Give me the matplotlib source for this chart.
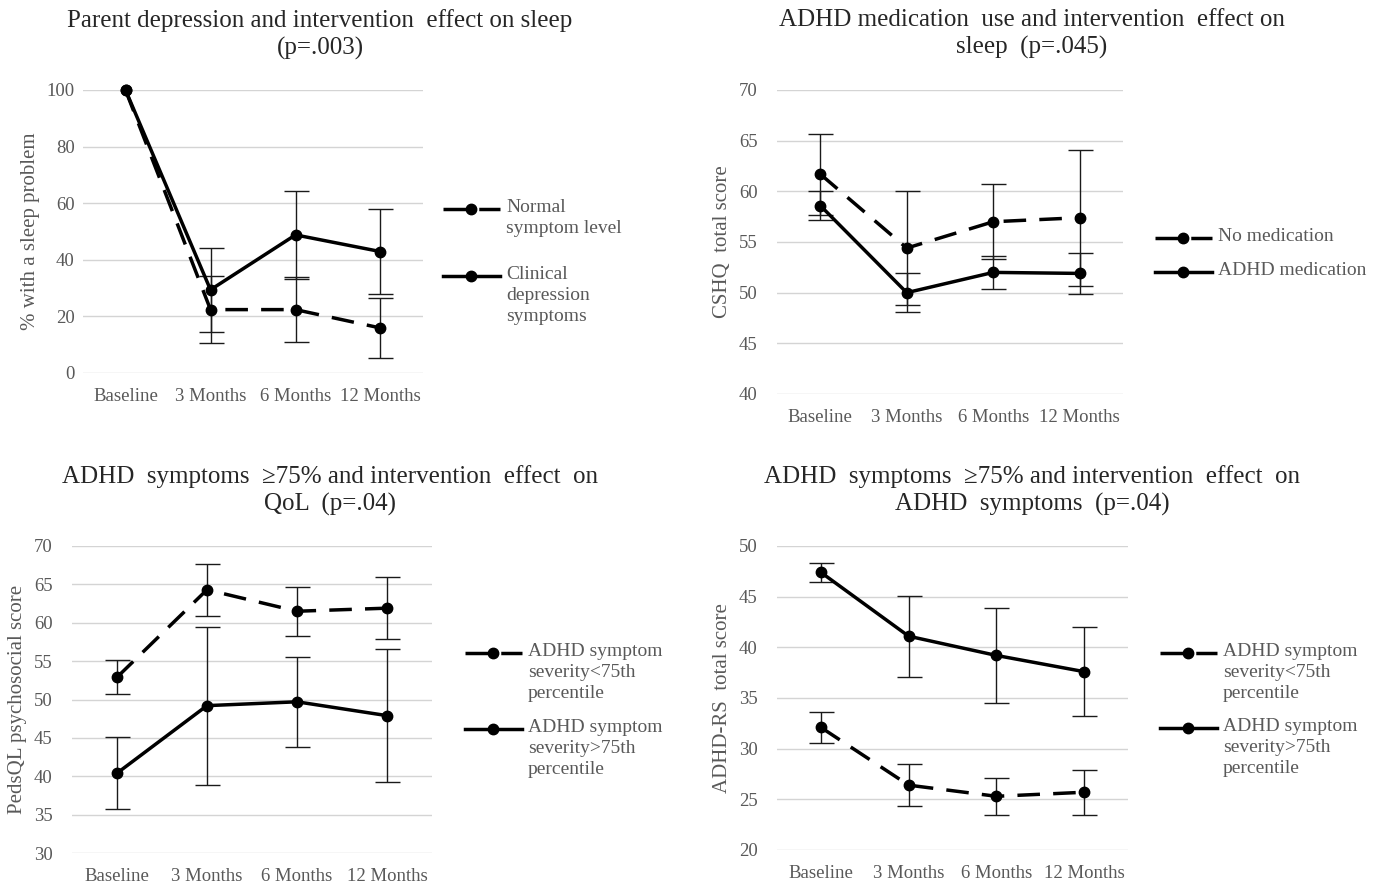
import numpy as np
import matplotlib
matplotlib.use("Agg")
import matplotlib.pyplot as plt
from matplotlib.lines import Line2D

plt.rcParams['font.family'] = ['Liberation Serif', 'DejaVu Serif']

# --- data ---
timepoints = ['Baseline', '3 Months', '6 Months', '12 Months']

# panel 1: parent depression, % with a sleep problem
normal_level = [100, 22.4, 22.4, 15.9]
normal_level_err = [None, 11.8, 11.5, 10.6]
clinical_dep = [100, 29.4, 48.8, 42.9]
clinical_dep_err = [None, 14.8, 15.6, 15.1]

# panel 2: ADHD medication, CSHQ total score
no_medication = [61.7, 54.4, 57.0, 57.4]
no_medication_err = [4.0, 5.6, 3.7, 6.7]
adhd_medication = [58.6, 50.0, 52.0, 51.9]
adhd_medication_err = [1.4, 1.9, 1.6, 2.0]

# panel 3: PedsQL psychosocial score
qol_below75 = [52.9, 64.3, 61.5, 61.9]
qol_below75_err = [2.2, 3.4, 3.2, 4.0]
qol_above75 = [40.4, 49.2, 49.7, 47.9]
qol_above75_err = [4.7, 10.3, 5.9, 8.7]

# panel 4: ADHD-RS total score
rs_below75 = [32.1, 26.4, 25.3, 25.7]
rs_below75_err = [1.5, 2.1, 1.85, 2.2]
rs_above75 = [47.4, 41.1, 39.2, 37.6]
rs_above75_err = [0.95, 4.0, 4.7, 4.4]

DASH = (0, (6.5, 3.8))
TXT = '#595959'
W, H = 1384, 890

fig = plt.figure(figsize=(W / 100, H / 100), dpi=100)


def fx(px):
    return px / W


def fy(py):
    return 1 - py / H


def add_panel(box, ylim, step, ylabel, series, ypad=14):
    x0, y0, x1, y1 = box
    ax = fig.add_axes([fx(x0), fy(y1), fx(x1 - x0), (y1 - y0) / H])
    x = np.arange(len(timepoints))
    for vals, errs, ls in series:
        idx = [i for i, e in enumerate(errs) if e is not None]
        ax.errorbar(x[idx], np.array(vals)[idx], yerr=np.array([errs[i] for i in idx]),
                    fmt='none', ecolor='#1a1a1a', elinewidth=1.0, capsize=9,
                    capthick=1.0, zorder=2)
    for vals, errs, ls in series:
        ax.plot(x, vals, linestyle=ls, color='black', lw=2.5, marker='o',
                markersize=7.5, zorder=3, clip_on=False)
    ax.set_xlim(-0.5, len(timepoints) - 0.5)
    ax.set_ylim(*ylim)
    ax.set_yticks(np.arange(ylim[0], ylim[1] + 0.1, step))
    ax.set_xticks(x)
    ax.set_xticklabels(timepoints)
    ax.grid(axis='y', color='#d4d4d4', lw=1.0)
    ax.set_axisbelow(True)
    for s in ax.spines.values():
        s.set_visible(False)
    ax.tick_params(axis='both', length=0, labelsize=13.5, colors=TXT)
    ax.tick_params(axis='y', pad=ypad)
    ax.tick_params(axis='x', pad=11)
    ax.set_ylabel(ylabel, fontsize=15, color=TXT, labelpad=5)
    return ax


def add_legend(x, rows):
    # rows: (first line y in px, linestyle, text)
    for y, ls, label in rows:
        line = Line2D([fx(x), fx(x + 28), fx(x + 57)], [fy(y)] * 3,
                      transform=fig.transFigure, color='black', lw=2.5,
                      linestyle=ls, marker='o', markersize=7.5, markevery=[1])
        fig.add_artist(line)
        fig.text(fx(x + 63), fy(y - 10), label, fontsize=14, color=TXT,
                 ha='left', va='top', linespacing=1.32,
                 transform=fig.transFigure)


def add_title(xc, y, text):
    fig.text(fx(xc), fy(y), text, fontsize=18, color='#262626', ha='center',
             va='top', linespacing=1.3)


# panel 1
ax1 = add_panel((83, 90, 423, 373), (0, 100), 20, '% with a sleep problem',
                [(normal_level, normal_level_err, DASH),
                 (clinical_dep, clinical_dep_err, '-')], ypad=6)
add_title(320, 9, 'Parent depression and intervention  effect on sleep\n(p=.003)')
add_legend(443, [(209, DASH, 'Normal\nsymptom level'),
                 (276, '-', 'Clinical\ndepression\nsymptoms')])

# panel 2
ax2 = add_panel((777, 90, 1123, 394), (40, 70), 5, 'CSHQ  total score',
                [(no_medication, no_medication_err, DASH),
                 (adhd_medication, adhd_medication_err, '-')])
add_title(1032, 9, 'ADHD medication  use and intervention  effect on\nsleep  (p=.045)')
add_legend(1155, [(238, DASH, 'No medication'),
                  (272, '-', 'ADHD medication')])

# panel 3
ax3 = add_panel((72, 546, 432, 853), (30, 70), 5, 'PedsQL psychosocial score',
                [(qol_below75, qol_below75_err, DASH),
                 (qol_above75, qol_above75_err, '-')])
add_title(330, 465, 'ADHD  symptoms  \u226575% and intervention  effect  on\nQoL  (p=.04)')
add_legend(465, [(653, DASH, 'ADHD symptom\nseverity<75th\npercentile'),
                 (729, '-', 'ADHD symptom\nseverity>75th\npercentile')])

# panel 4
ax4 = add_panel((777, 546, 1128, 850), (20, 50), 5, 'ADHD-RS  total score',
                [(rs_below75, rs_below75_err, DASH),
                 (rs_above75, rs_above75_err, '-')])
add_title(1032, 465, 'ADHD  symptoms  \u226575% and intervention  effect  on\nADHD  symptoms  (p=.04)')
add_legend(1160, [(653, DASH, 'ADHD symptom\nseverity<75th\npercentile'),
                  (728, '-', 'ADHD symptom\nseverity>75th\npercentile')])

fig.savefig('out.png', dpi=100, facecolor='white')
